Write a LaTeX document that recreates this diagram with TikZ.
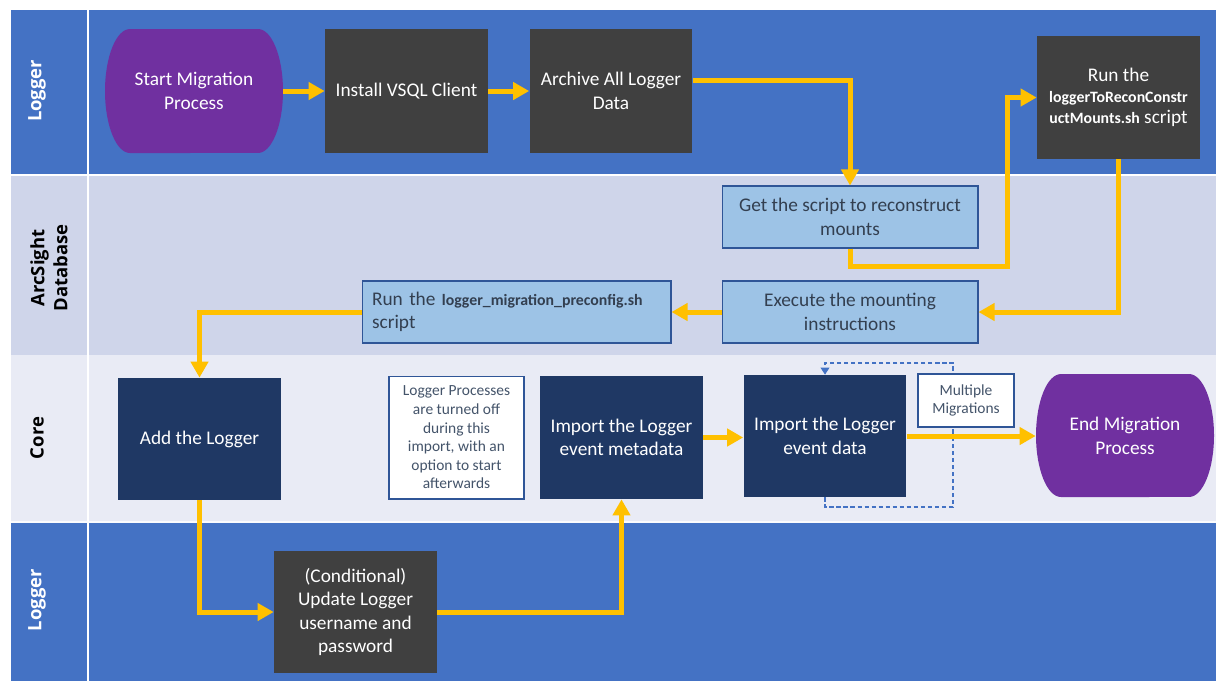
\documentclass[tikz,border=0pt]{standalone}
\usepackage{fontspec}
\setmainfont{Carlito}
\newfontfamily\headfont{Open Sans}
\usepackage{xcolor}
\usetikzlibrary{arrows.meta, positioning}
\definecolor{laneblue}{RGB}{68,114,196}
\definecolor{lanelilac}{RGB}{207,213,234}
\definecolor{lanepale}{RGB}{233,235,245}
\definecolor{boxgrey}{RGB}{64,64,64}
\definecolor{boxnavy}{RGB}{31,56,100}
\definecolor{termpurple}{RGB}{112,48,160}
\definecolor{flowyellow}{RGB}{255,192,0}
\definecolor{stepblue}{RGB}{157,195,230}
\definecolor{stepedge}{RGB}{47,85,151}
\definecolor{steptext}{RGB}{51,63,80}
\definecolor{notetext}{RGB}{68,84,106}

\tikzset{
  lanelabel/.style={rotate=90, align=center, font=\headfont\bfseries\fontsize{10.5}{13}\selectfont},
  greybox/.style={fill=boxgrey, text=white, align=center, minimum width=3.26cm, minimum height=2.48cm,
                  font=\fontsize{11}{13.4}\selectfont},
  navybox/.style={greybox, fill=boxnavy},
  termnode/.style={text=white, align=center, minimum width=3.56cm, minimum height=2.48cm,
                   font=\fontsize{11}{13.4}\selectfont},
  stepbox/.style={fill=stepblue, draw=stepedge, line width=0.6pt, text=steptext, align=center,
                  minimum width=5.12cm, minimum height=1.24cm, font=\fontsize{11}{13.4}\selectfont},
  notebox/.style={fill=white, draw=stepedge, line width=0.6pt, text=notetext, align=center,
                  font=\fontsize{8.8}{10.6}\selectfont},
  flow/.style={draw=flowyellow, line width=0.1cm, -{Triangle[length=0.32cm, width=0.34cm]}},
  repeatline/.style={draw=laneblue, line width=0.6pt, dash pattern=on 2.5pt off 1.5pt,
                     -{Triangle[length=4pt, width=5pt]}}
}

\begin{document}
\begin{tikzpicture}[x=0.02cm, y=-0.02cm]
    \useasboundingbox (0,0) rectangle (1216,681);

    \fill[laneblue]  (11,10)  rectangle (1216,174);
    \fill[lanelilac] (11,176) rectangle (1216,355);
    \fill[lanepale]  (11,355) rectangle (1216,522);
    \fill[laneblue]  (11,522) rectangle (1216,681);
    \draw[white, line width=1.2pt] (88,10) -- (88,681);
    \draw[white!80!lanepale, line width=0.8pt] (11,522) -- (1216,522);

    \node[lanelabel, text=white] (hdtop)  at (37,91)  {Logger};
    \node[lanelabel]             (hddb)   at (49,268) {ArcSight\\Database};
    \node[lanelabel]             (hdcore) at (37,438) {Core};
    \node[lanelabel, text=white] (hdbot)  at (37,600) {Logger};

    \fill[termpurple] (130,29) -- (258,29)
          arc[start angle=90, end angle=-90, x radius=0.5cm, y radius=1.24cm] -- (130,153)
          arc[start angle=270, end angle=90, x radius=0.5cm, y radius=1.24cm] -- cycle;
    \fill[termpurple] (1061,374) -- (1189,374)
          arc[start angle=90, end angle=-90, x radius=0.5cm, y radius=1.23cm] -- (1061,497)
          arc[start angle=270, end angle=90, x radius=0.5cm, y radius=1.23cm] -- cycle;

    \coordinate (loopbot) at (953,507);
    \coordinate (looptop) at (953,363);
    \coordinate (bendup) at (1007,266);

    \node[termnode] (start)   at (194,91)    {Start Migration\\Process};
    \node[greybox]  (install) at (406.5,91)  {Install VSQL Client};
    \node[greybox]  (archive) at (611,91)    {Archive All Logger\\Data};
    \node[greybox, minimum height=2.46cm, font=\fontsize{11}{11.9}\selectfont] (run) at (1118.5,97.5)
          {Run the\\{\bfseries\fontsize{9}{11.9}\selectfont loggerToReconConstr}\\{\bfseries\fontsize{9}{11.9}\selectfont uctMounts.sh} script};

    \node[stepbox] (get)  at (850,217) {Get the script to reconstruct\\mounts};
    \node[stepbox] (exec) at (850,312) {Execute the mounting\\instructions};
    \node[stepbox, align=left, text width=5.78cm, minimum width=6.18cm] (pre) at (516.5,312)
          {Run the {\bfseries\fontsize{9}{11}\selectfont logger\_migration\_preconfig.sh}\\script};

    \node[navybox, minimum height=2.44cm] (add)   at (199.5,439) {Add the Logger};
    \node[notebox, minimum width=2.7cm, minimum height=2.46cm] (note) at (456.5,437.5)
          {Logger Processes\\are turned off\\during this\\import,  with an\\option to start\\afterwards};
    \node[navybox, minimum height=2.46cm] (meta)  at (621.5,437.5) {Import the Logger\\event metadata};
    \node[navybox, minimum height=2.44cm] (event) at (825,436) {Import the Logger\\event data};
    \draw[repeatline] (event.south) |- (loopbot) -- (looptop) -| (event.north);
    \node[notebox, minimum width=1.92cm, minimum height=1.06cm] (multi) at (966,400.5)
          {Multiple\\Migrations};
    \node[termnode, minimum height=2.46cm] (end) at (1125,436) {End Migration\\Process};

    \node[greybox, minimum height=2.44cm] (cond) at (355.5,612)
          {(Conditional)\\Update Logger\\username and\\password};

    \draw[flow] (start) -- (install);
    \draw[flow] (install) -- (archive);
    \draw[flow] ([yshift=0.22cm]archive.east) -| (get.north);
    \draw[flow] (get.south) |- (bendup) |- (run.west);
    \draw[flow] (run.south) |- (exec.east);
    \draw[flow] (exec.west) -- (pre.east);
    \draw[flow] (pre.west) -| (add.north);
    \draw[flow] (add.south) |- (cond.west);
    \draw[flow] (cond.east) -| (meta.south);
    \draw[flow] (meta.east) -- (meta.east -| event.west);
    \draw[flow] (event.east) -- (end.west);
\end{tikzpicture}
\end{document}
